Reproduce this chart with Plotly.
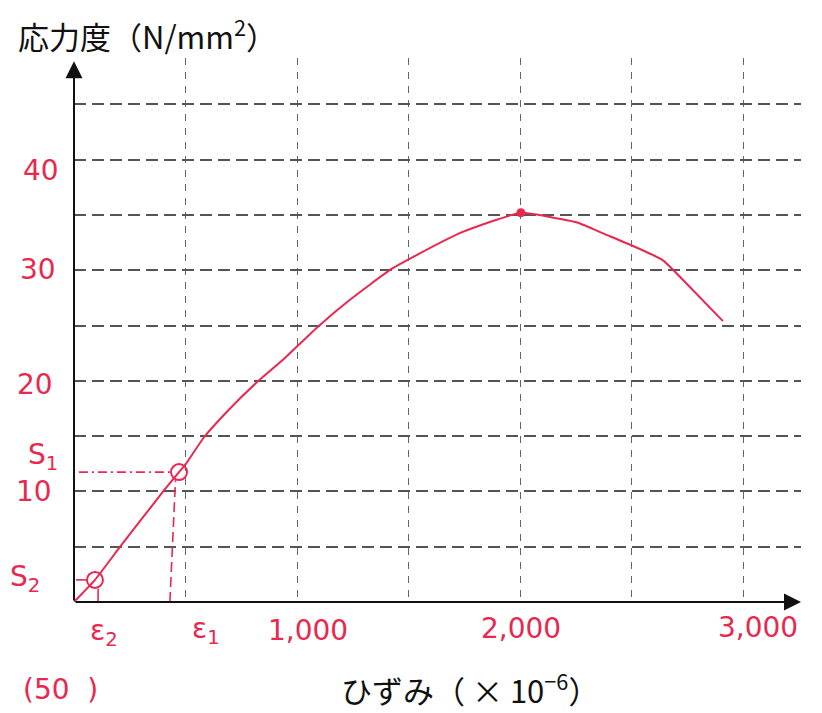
import plotly.graph_objects as go

# stress-strain curve (strain x10^-6, stress N/mm2)
strain = [0, 94, 207, 400, 471, 502, 583, 690, 816, 942, 1094, 1229, 1422,
          1511, 1735, 2004, 2139, 2260, 2377, 2507, 2641, 2780, 2910]
stress = [0, 2.0, 5.0, 10.0, 11.75, 12.5, 14.9, 17.3, 19.8, 22.0, 24.9, 27.2,
          30.1, 31.1, 33.4, 35.2, 34.8, 34.3, 33.3, 32.2, 30.9, 28.1, 25.4]

# circled points S2 / S1 and the peak
s_strain = [94, 471]
s_stress = [2.0, 11.75]
peak_strain = [2004]
peak_stress = [35.2]

# red guide lines
s1_h_x = [22, 432]
s1_h_y = [11.75, 11.75]
s1_v_x = [430, 455]
s1_v_y = [0, 11.0]
s2_h_x = [9, 60]
s2_h_y = [2.0, 2.0]
s2_v_x = [108, 108]
s2_v_y = [0.1, 1.2]

# hand-written red labels (positions in data units)
label_text = ["40", "30", "20", "S<sub>1</sub>", "10", "S<sub>2</sub>",
              "ε<sub>2</sub>", "(50  )", "ε<sub>1</sub>", "1,000", "2,000", "3,000"]
label_x = [-148, -161, -175, -139, -179, -220, 135, -60, 592, 1049, 2004, 3067]
label_y = [39.0, 30.1, 19.7, 13.2, 10.0, 2.1, -2.8, -7.9, -2.6, -2.6, -2.4, -2.3]

grid_x = [500, 1000, 1500, 2000, 2500, 3000]
grid_y = [5, 10, 15, 20, 25, 30, 35, 40, 45]

RED = "#e8284f"
X_MAX = 3260
Y_MAX = 49.2


def px(x):
    return x / X_MAX


def py(y):
    return y / Y_MAX


fig = go.Figure()

dash_line = dict(color=RED, width=1.6)
fig.add_trace(go.Scatter(x=s1_h_x, y=s1_h_y, mode="lines",
                         line=dict(dash="9px,4px,2px,4px", **dash_line)))
fig.add_trace(go.Scatter(x=s1_v_x, y=s1_v_y, mode="lines",
                         line=dict(dash="10px,5px", **dash_line)))
fig.add_trace(go.Scatter(x=s2_h_x, y=s2_h_y, mode="lines",
                         line=dict(dash="10px,4px", **dash_line)))
fig.add_trace(go.Scatter(x=s2_v_x, y=s2_v_y, mode="lines", line=dash_line))

fig.add_trace(go.Scatter(x=strain, y=stress, mode="lines",
                         line=dict(color=RED, width=2, shape="spline", smoothing=0.5)))
fig.add_trace(go.Scatter(x=s_strain, y=s_stress, mode="markers",
                         marker=dict(symbol="circle-open", size=16, color=RED,
                                     line=dict(color=RED, width=2))))
fig.add_trace(go.Scatter(x=peak_strain, y=peak_stress, mode="markers",
                         marker=dict(size=9, color=RED)))

annotations = []
for t, x, y in zip(label_text, label_x, label_y):
    annotations.append(dict(x=px(x), y=py(y), xref="paper", yref="paper", text=t,
                            xanchor="center", yanchor="middle", showarrow=False,
                            font=dict(family="DejaVu Sans", size=28, color=RED)))

# axis arrows
annotations.append(dict(x=X_MAX, y=0, ax=0, ay=0, xref="x", yref="y",
                        axref="x", ayref="y", text="", showarrow=True,
                        arrowhead=2, arrowsize=1.7, arrowwidth=2, arrowcolor="#111"))
annotations.append(dict(x=0, y=Y_MAX - 0.3, ax=0, ay=0, xref="x", yref="y",
                        axref="x", ayref="y", text="", showarrow=True,
                        arrowhead=2, arrowsize=1.7, arrowwidth=2, arrowcolor="#111"))

# axis titles
annotations.append(dict(x=px(-262), y=py(51.3), xref="paper", yref="paper",
                        xanchor="left", yanchor="middle",
                        text="応力度（N/mm<sup>2</sup>）", showarrow=False,
                        font=dict(family="Noto Sans CJK JP", size=31, color="#111")))
annotations.append(dict(x=px(1190), y=py(-7.8), xref="paper", yref="paper",
                        xanchor="left", yanchor="middle",
                        text="ひずみ（ × 10<sup>−6</sup>）", showarrow=False,
                        font=dict(family="Noto Sans CJK JP", size=31, color="#111")))

fig.update_layout(
    width=822, height=713,
    margin=dict(l=66, r=29, t=50, b=119),
    paper_bgcolor="white", plot_bgcolor="white",
    showlegend=False,
    annotations=annotations,
    xaxis=dict(range=[0, X_MAX], tickvals=grid_x, showticklabels=False,
               showgrid=True, gridcolor="#666", gridwidth=1.2, griddash="7px,7px",
               zeroline=False, showline=False, fixedrange=True),
    yaxis=dict(range=[0, Y_MAX], tickvals=grid_y, showticklabels=False,
               showgrid=True, gridcolor="#555", gridwidth=2, griddash="12px,6px",
               zeroline=False, showline=False, fixedrange=True),
)

fig.write_html("out.html")
